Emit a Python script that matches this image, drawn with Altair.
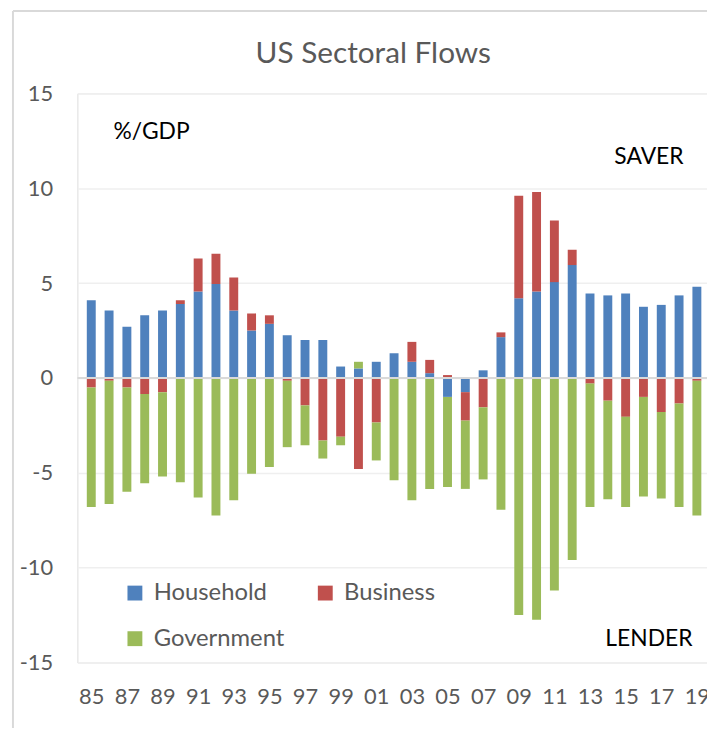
import altair as alt
import pandas as pd

years = list(range(1985, 2020))
household = [4.1, 3.55, 2.7, 3.3, 3.55, 3.9, 4.55, 4.95, 3.55, 2.5, 2.85, 2.25, 2.0, 2.0, 0.6,
             0.5, 0.85, 1.3, 0.85, 0.25, -1.0, -0.75, 0.4, 2.15, 4.2, 4.55, 5.05, 5.95, 4.45,
             4.35, 4.45, 3.75, 3.85, 4.35, 4.8]
business = [-0.5, -0.15, -0.5, -0.85, -0.75, 0.2, 1.75, 1.6, 1.75, 0.9, 0.45, -0.15, -1.45, -3.3, -3.1,
            -4.8, -2.35, 0.0, 1.05, 0.7, 0.15, -1.5, -1.55, 0.25, 5.4, 5.25, 3.25, 0.8, -0.3,
            -1.2, -2.05, -1.0, -1.8, -1.35, -0.15]
government = [-6.3, -6.5, -5.5, -4.7, -4.45, -5.5, -6.3, -7.25, -6.45, -5.05, -4.7, -3.5, -2.1, -0.95, -0.45,
              0.35, -2.0, -5.4, -6.45, -5.85, -4.75, -3.6, -3.8, -6.95, -12.5, -12.75, -11.2, -9.6, -6.5,
              -5.2, -4.75, -5.25, -4.55, -5.45, -7.1]
sectors = ["Household", "Business", "Government"]
legend_order = ["Household", "Government", "Business"]  # column-major fill gives rows H,B / G
colors = ["#4F81BD", "#C0504D", "#9BBB59"]
x_ticks = list(range(1985, 2020, 2))
y_ticks = [-15, -10, -5, 0, 5, 10, 15]

rows = []
for i, y in enumerate(years):
    for k, (name, vals) in enumerate(zip(sectors, [household, business, government])):
        rows.append({"year": y, "sector": name, "value": vals[i], "order": k})
df = pd.DataFrame(rows)
one = pd.DataFrame([{"a": 1}])

FONT = "Lato"
GRAY = "#595959"

xscale = alt.Scale(domain=[1984.5, 2019.29], nice=False, zero=False)
yscale = alt.Scale(domain=[-15, 15], nice=False)

bars = alt.Chart(df).mark_bar(size=9, clip=True).encode(
    x=alt.X("year:Q", scale=xscale,
            axis=alt.Axis(values=x_ticks, tickCount=60, title=None, grid=False, domain=False, ticks=False,
                          labelExpr="substring(toString(datum.value), 2, 4)",
                          labelFont=FONT, labelFontSize=22, labelColor=GRAY,
                          labelPadding=24, labelFlush=False, labelOverlap=False, labelBound=False)),
    y=alt.Y("value:Q", stack="zero", scale=yscale,
            axis=alt.Axis(values=y_ticks, tickCount=20, title=None, grid=True, gridColor="#EFEFEF", gridWidth=1.5,
                          domain=False, ticks=False, labelExpr="toString(datum.value)",
                          labelFont=FONT, labelFontSize=22, labelColor=GRAY, labelPadding=25)),
    color=alt.Color("sector:N", scale=alt.Scale(domain=sectors, range=colors),
                    legend=alt.Legend(title=None, orient="none", legendX=46, legendY=492,
                                      values=legend_order,
                                      columns=2, columnPadding=29, rowPadding=22,
                                      symbolType="square", symbolSize=225, symbolStrokeWidth=0,
                                      symbolOpacity=1, labelFont=FONT, labelFontSize=24,
                                      labelColor=GRAY, labelOffset=7, padding=0)),
    order=alt.Order("order:Q"),
)

left_edge = alt.Chart(one).mark_rule(color="#D9D9D9", strokeWidth=2, clip=False).encode(
    x=alt.value(-65), y=alt.value(-83), y2=alt.value(640)
)
top_edge = alt.Chart(one).mark_rule(color="#D9D9D9", strokeWidth=2, clip=False).encode(
    x=alt.value(-65), x2=alt.value(640), y=alt.value(-83)
)

zero = alt.Chart(one).mark_rule(color="#D9D9D9", strokeWidth=2).encode(y=alt.datum(0))


def label(txt, x, y, align, size=23, color="#000000"):
    return alt.Chart(one).mark_text(text=txt, font=FONT, fontSize=size, color=color,
                                    align=align, baseline="alphabetic", clip=False).encode(
        x=alt.datum(x), y=alt.datum(y))


title = label("US Sectoral Flows", 2000.83, 16.59, "center", size=30, color=GRAY)
gdp = label("%/GDP", 1986.25, 12.6, "left")
saver = label("SAVER", 2018.25, 11.29, "right")
lender = label("LENDER", 2018.75, -14.13, "right")

chart = alt.layer(left_edge, top_edge, bars, zero, title, gdp, saver, lender).properties(
    width=635, height=574,
    autosize=alt.AutoSizeParams(type="none"),
    padding={"left": 70, "top": 83, "right": 0, "bottom": 64},
).configure_view(stroke=None).configure(background="white")

chart.save("out.html", embed_options={"renderer": "svg", "actions": False})
